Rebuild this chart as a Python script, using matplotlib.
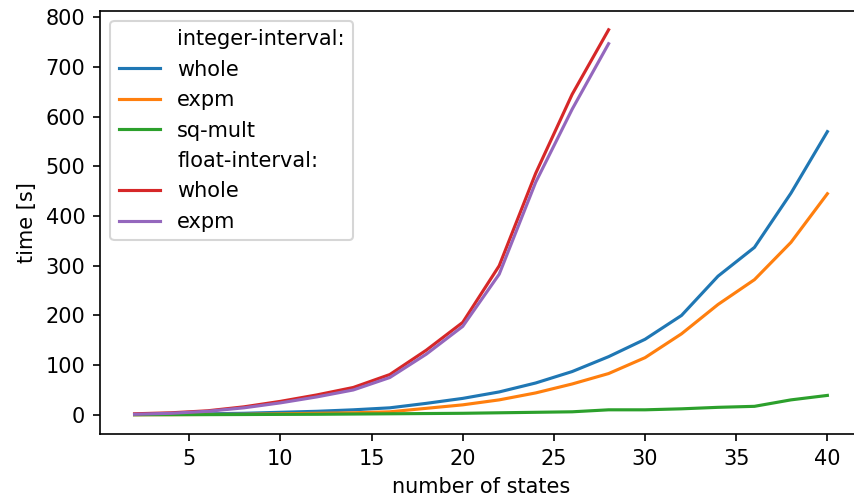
import matplotlib.pyplot as plt
import numpy as np

# benchmark timings per number of states
states = np.arange(2, 42, 2)
states_float = np.arange(2, 30, 2)

int_whole = [0.5, 1, 2, 3, 5, 7, 10, 14, 23, 33, 46, 64, 87, 117, 152, 200, 279, 337, 446, 570]
int_expm = [0.1, 0.3, 0.7, 1, 2, 3, 4, 6, 13, 20, 30, 44, 62, 83, 115, 163, 222, 272, 347, 445]
int_sqmult = [0.1, 0.2, 0.3, 0.5, 0.8, 1, 1.5, 2, 2.5, 3, 4, 5, 6, 10, 10, 12, 15, 17, 30, 39]
float_whole = [2, 4, 8, 16, 27, 40, 55, 81, 130, 186, 300, 486, 645, 775]
float_expm = [1, 3, 7, 14, 24, 36, 50, 75, 122, 178, 283, 468, 615, 747]

fig, ax = plt.subplots(figsize=(854 / 150, 502 / 150), dpi=150)
# axes run slightly past the right edge of the canvas
fig.subplots_adjust(left=0.117, right=1.0094, top=0.979, bottom=0.1355)

ax.plot([], [], ' ', label='integer-interval:')
ax.plot(states, int_whole, color='C0', label='whole')
ax.plot(states, int_expm, color='C1', label='expm')
ax.plot(states, int_sqmult, color='C2', label='sq-mult')
ax.plot([], [], ' ', label='float-interval:')
ax.plot(states_float, float_whole, color='C3', label='whole')
ax.plot(states_float, float_expm, color='C4', label='expm')

ax.set_xlabel('number of states')
ax.set_ylabel('time [s]')
ax.legend(loc='upper left')

fig.savefig('out.png', dpi=150)
